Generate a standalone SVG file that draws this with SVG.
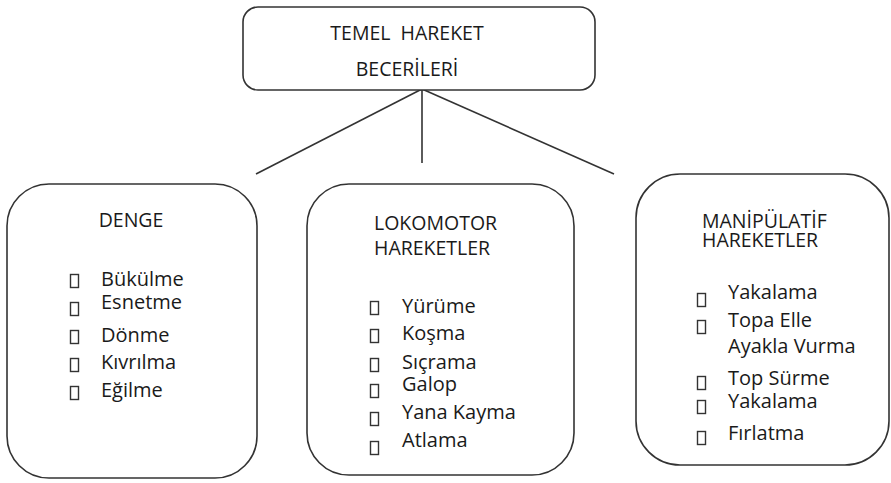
<svg xmlns="http://www.w3.org/2000/svg" width="891" height="483" viewBox="0 0 891 483">
<style>
.box{fill:#fff;stroke:#333;stroke-width:1.6}
.t{font-family:"Open Sans","Liberation Sans",sans-serif;font-size:20px;fill:#1a1a1a}
.h{font-family:"Open Sans","Liberation Sans",sans-serif;font-size:19.5px;fill:#1a1a1a}
.b{fill:none;stroke:#333;stroke-width:1.4}
.c{stroke:#333;stroke-width:1.6;fill:none}
</style>
<rect width="891" height="483" fill="#fff"/>
<g id="connectors">
<line class="c" x1="422" y1="89" x2="256" y2="174"/>
<line class="c" x1="422" y1="89" x2="422" y2="163"/>
<line class="c" x1="422" y1="89" x2="614" y2="174"/>
</g>
<g id="root">
<rect class="box" x="243" y="7" width="352" height="83" rx="15"/>
<text class="h" x="407" y="40" text-anchor="middle" xml:space="preserve">TEMEL  HAREKET</text>
<text class="h" x="407" y="76" text-anchor="middle">BECERİLERİ</text>
</g>
<g id="denge">
<rect class="box" x="7" y="184" width="250" height="294" rx="42"/>
<text class="h" x="131" y="227" text-anchor="middle">DENGE</text>
<rect class="b" x="70.5" y="274.5" width="8" height="13"/>
<text class="t" x="101" y="286">Bükülme</text>
<rect class="b" x="70.5" y="302.5" width="8" height="13"/>
<text class="t" x="101" y="309">Esnetme</text>
<rect class="b" x="70.5" y="330.5" width="8" height="13"/>
<text class="t" x="101" y="342">Dönme</text>
<rect class="b" x="70.5" y="358.5" width="8" height="13"/>
<text class="t" x="101" y="369">Kıvrılma</text>
<rect class="b" x="70.5" y="386.5" width="8" height="13"/>
<text class="t" x="101" y="397">Eğilme</text>
</g>
<g id="lokomotor">
<rect class="box" x="307" y="184" width="267" height="291" rx="42"/>
<text class="h" x="374" y="230">LOKOMOTOR</text>
<text class="h" x="374" y="255">HAREKETLER</text>
<rect class="b" x="370.5" y="301.5" width="8" height="13"/>
<text class="t" x="402" y="313">Yürüme</text>
<rect class="b" x="370.5" y="329.5" width="8" height="13"/>
<text class="t" x="402" y="340">Koşma</text>
<rect class="b" x="370.5" y="358.5" width="8" height="13"/>
<text class="t" x="402" y="369">Sıçrama</text>
<rect class="b" x="370.5" y="384.5" width="8" height="13"/>
<text class="t" x="402" y="391">Galop</text>
<rect class="b" x="370.5" y="412.5" width="8" height="13"/>
<text class="t" x="402" y="419">Yana Kayma</text>
<rect class="b" x="370.5" y="441.5" width="8" height="13"/>
<text class="t" x="402" y="447">Atlama</text>
</g>
<g id="manipulatif">
<rect class="box" x="636" y="174" width="253" height="291" rx="44"/>
<text class="h" x="702" y="228">MANİPÜLATİF</text>
<text class="h" x="702" y="247">HAREKETLER</text>
<rect class="b" x="697.5" y="293.5" width="8" height="13"/>
<text class="t" x="728" y="299">Yakalama</text>
<rect class="b" x="697.5" y="320.5" width="8" height="13"/>
<text class="t" x="728" y="327">Topa Elle</text>
<text class="t" x="728" y="353">Ayakla Vurma</text>
<rect class="b" x="697.5" y="376.5" width="8" height="13"/>
<text class="t" x="728" y="385">Top Sürme</text>
<rect class="b" x="697.5" y="400.5" width="8" height="13"/>
<text class="t" x="728" y="408">Yakalama</text>
<rect class="b" x="697.5" y="431.5" width="8" height="13"/>
<text class="t" x="728" y="440">Fırlatma</text>
</g>
</svg>
